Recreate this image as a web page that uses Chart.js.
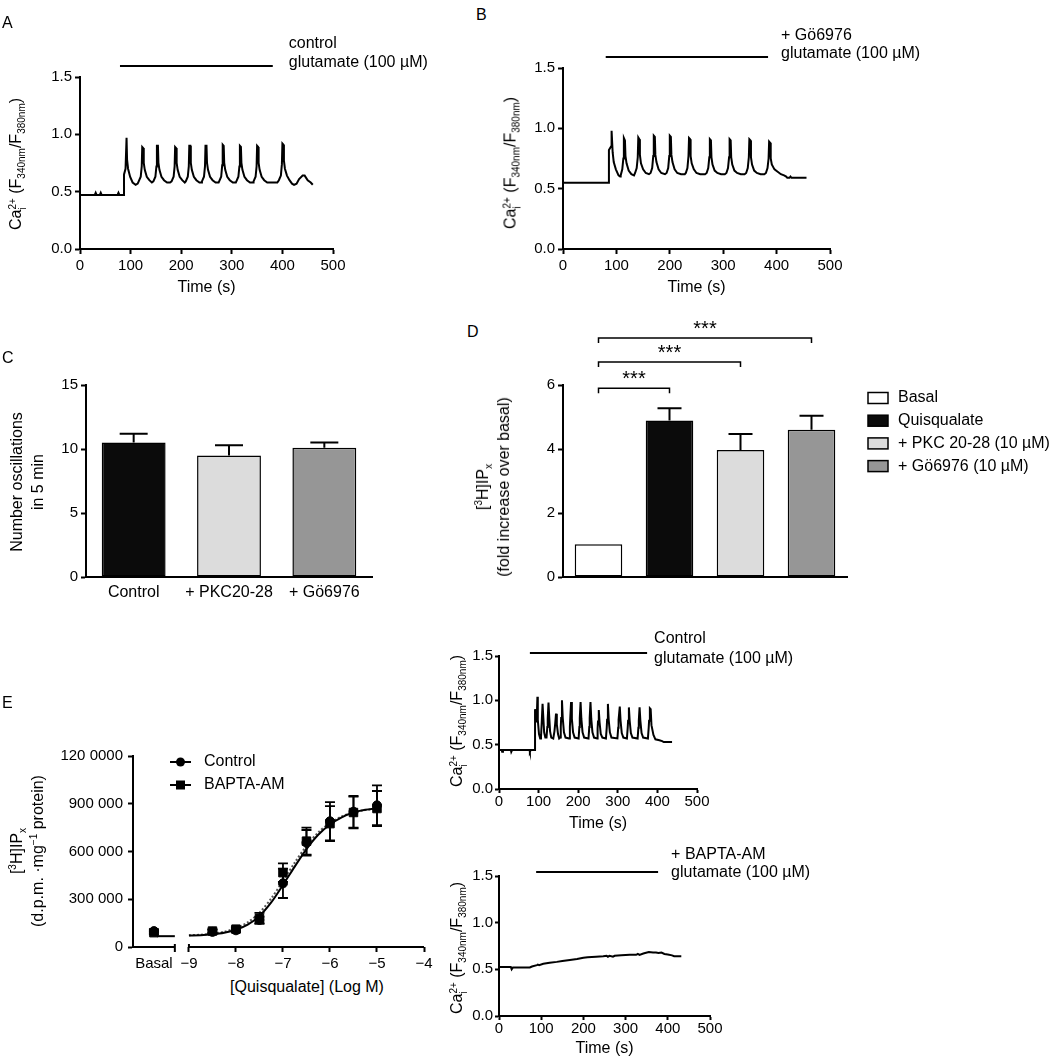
<!DOCTYPE html>
<html>
<head>
<meta charset="utf-8">
<title>PKC and Ca2+ oscillations</title>
<script src="https://cdn.jsdelivr.net/npm/chart.js@4.4.1/dist/chart.umd.min.js"></script>
<style>
  body { margin: 0; background: #fff; }
  #fig { position: relative; width: 1063px; height: 1059px; overflow: hidden; background: #fff;
         font-family: "Liberation Sans", Arial, Helvetica, sans-serif; color: #000; }
  #fig canvas { position: absolute; }
  .txt { position: absolute; font-size: 16px; line-height: 1; white-space: nowrap; transform: translate(-50%, -50%); }
  .letter { position: absolute; font-size: 16px; line-height: 1; }
  .yt { position: absolute; font-size: 16px; line-height: 21px; white-space: nowrap; text-align: center;
        transform: translate(-50%, -50%) rotate(-90deg); }
  .yt sub { font-size: 10px; vertical-align: -4px; line-height: 0; }
  .yt sup { font-size: 10px; vertical-align: 6px; line-height: 0; }
  .ss { display: inline-block; font-size: 10px; line-height: 10px; vertical-align: -5px; text-align: left; }
  .ss span { display: block; }
</style>
</head>
<body>
<div id="fig"></div>
<script>
// ---- data ----

// Ca2+ traces: [time (s), ratio F340/F380]
const traceA = [[0,.47],[29,.47],[31,.49],[33,.47],[39,.47],[41,.49],[43,.47],[74,.47],[76,.49],[78,.47],[87,.47],[87,.65],[90,.70],[92,.97],[93,.78],[95,.70],[99,.63],[104,.58],[110,.56],[114,.57],
  [116,.59],[120,.63],[122,.72],[123,.89],[125,.88],[126,.75],[128,.69],[132,.63],[137,.60],[142,.58],
  [145,.59],[149,.63],[151,.72],[152,.90],[154,.90],[155,.75],[157,.69],[161,.63],[166,.60],[172,.58],[178,.58],
  [181,.59],[185,.63],[187,.72],[188,.89],[190,.88],[191,.75],[193,.69],[197,.63],[202,.60],[207,.58],
  [209,.59],[213,.63],[215,.72],[216,.90],[218,.90],[219,.75],[221,.69],[225,.63],[230,.60],[236,.58],[240,.58],
  [241,.59],[245,.63],[247,.72],[248,.90],[250,.90],[251,.75],[253,.69],[257,.63],[262,.60],[268,.58],[274,.58],
  [275,.59],[279,.63],[281,.73],[282,.91],[284,.90],[285,.75],[287,.69],[291,.63],[296,.60],[302,.58],[308,.58],
  [309,.59],[313,.63],[315,.72],[316,.90],[318,.89],[319,.75],[321,.69],[325,.63],[330,.60],[336,.58],[342,.58],
  [343,.59],[347,.63],[349,.72],[350,.90],[352,.89],[353,.75],[355,.69],[359,.63],[364,.60],[370,.58],[390,.58],
  [393,.60],[397,.64],[399,.74],[400,.92],[402,.91],[403,.77],[405,.70],[409,.64],[414,.60],[419,.57],[423,.56],[428,.57],
  [433,.61],[440,.64],[444,.64],[450,.60],[456,.58],[460,.56]];

const traceB = [[0,.55],[86,.55],[86,.82],[90,.85],[91,.98],[93,.80],[95,.72],[99,.66],[104,.61],[107,.60],
  [108,.61],[111,.66],[113,.75],[114,.92],[116,.90],[117,.77],[119,.71],[123,.65],[128,.62],[133,.61],
  [135,.63],[138,.67],[140,.76],[141,.925],[143,.91],[144,.78],[146,.71],[150,.66],[155,.63],[161,.62],
  [164,.63],[167,.67],[169,.77],[170,.94],[172,.93],[173,.78],[175,.72],[179,.66],[184,.63],[191,.62],
  [194,.63],[197,.67],[199,.77],[200,.94],[202,.93],[203,.78],[205,.72],[209,.66],[214,.63],[221,.62],[228,.62],
  [230,.63],[233,.67],[235,.77],[236,.92],[238,.91],[239,.77],[241,.71],[245,.66],[250,.63],[257,.62],[266,.62],
  [269,.63],[272,.67],[274,.76],[275,.91],[277,.90],[278,.76],[280,.70],[284,.65],[289,.63],[296,.62],[303,.62],
  [306,.63],[309,.67],[311,.76],[312,.91],[314,.90],[315,.76],[317,.70],[321,.65],[326,.63],[333,.62],[340,.62],
  [343,.63],[346,.67],[348,.76],[349,.91],[351,.90],[352,.76],[354,.70],[358,.65],[363,.63],[370,.62],[377,.62],
  [380,.63],[383,.67],[385,.75],[386,.89],[388,.88],[389,.75],[391,.70],[396,.66],[402,.64],[408,.62],[414,.61],
  [418,.60],[420,.59],[424,.59],[426,.60],[428,.59],[440,.59],[456,.59]];

const traceCtrl = [[0,.44],[7,.44],[8,.42],[10,.44],[30,.44],[31,.42],[33,.44],[77,.44],[78,.42],[80,.44],[91,.44],[91,.90],[95,.75],[97,1.04],[98,.78],[101,.62],[104,.57],[106,.58],
  [108,.76],[110,.96],[112,.80],[114,.64],[117,.58],[120,.58],
  [122,.70],[123,.79],[125,.975],[127,.80],[129,.65],[132,.58],[137,.57],
  [140,.65],[142,.74],[144,.85],[146,.73],[149,.62],[152,.57],[155,.58],
  [156,.70],[157,.80],[159,1.0],[161,.80],[164,.64],[168,.58],[177,.57],
  [179,.70],[180,.80],[182,.98],[184,.79],[187,.64],[191,.58],[201,.57],
  [203,.70],[204,.80],[206,.98],[208,.79],[211,.64],[215,.58],[226,.57],
  [228,.70],[229,.80],[231,.98],[233,.79],[236,.64],[240,.58],[248,.57],
  [249,.68],[250,.76],[252,.89],[254,.75],[257,.62],[261,.58],[270,.57],
  [272,.69],[273,.78],[275,.96],[277,.78],[280,.64],[284,.58],[299,.57],
  [301,.69],[302,.78],[305,.93],[307,.77],[310,.63],[314,.58],[323,.57],
  [325,.69],[326,.77],[328,.92],[330,.77],[333,.63],[337,.58],[350,.57],
  [352,.69],[353,.77],[355,.92],[357,.77],[360,.63],[364,.58],[376,.57],
  [378,.69],[379,.77],[381,.91],[383,.90],[385,.72],[390,.61],[395,.56],[405,.55],[412,.54],[416,.53],[437,.53]];

const traceBapta = [[0,.525],[28,.525],[30,.50],[33,.52],[73,.52],[78,.53],[90,.545],[92,.55],[95,.545],[105,.56],[120,.57],[137,.58],
  [150,.59],[168,.60],[185,.61],[200,.625],[210,.63],[230,.635],[247,.64],[255,.645],[258,.635],[262,.645],[270,.635],
  [274,.645],[290,.65],[310,.655],[325,.655],[329,.665],[333,.655],[342,.67],[355,.685],[365,.68],[372,.68],[378,.675],
  [385,.68],[392,.665],[400,.66],[410,.65],[415,.64],[425,.64],[432,.64]];

// glutamate application (s)
const stimA = [79, 381];
const stimB = [80, 384];
const stimCtrl = [78, 374];
const stimBapta = [88, 377];
const timeTicks = [0, 100, 200, 300, 400, 500];
const ratioTicks = [0, 0.5, 1.0, 1.5];

// C: oscillation frequency
const oscCats = ['Control', '+ PKC20-28', '+ Gö6976'];
const oscMean = [10.5, 9.5, 10.1];
const oscSem = [0.7, 0.8, 0.4];
const oscColors = ['#0b0b0b', '#dcdcdc', '#969696'];

// D: [3H]IPx accumulation, fold over basal
const ipCats = ['Basal', 'Quisqualate', '+ PKC 20-28 (10 µM)', '+ Gö6976 (10 µM)'];
const ipMean = [1.02, 4.89, 3.97, 4.6];
const ipSem = [0, 0.38, 0.5, 0.44];
const ipColors = ['#ffffff', '#0b0b0b', '#dcdcdc', '#969696'];
const ipSig = ['***', '***', '***'];   // basal vs bars 1, 2, 3

// E: concentration-response
const doseLogM = [-8.5, -8, -7.5, -7, -6.5, -6, -5.5, -5];
const ctrlIP = [95000, 105000, 170000, 400000, 655000, 790000, 850000, 890000];
const ctrlSem = [12000, 12000, 20000, 92000, 80000, 120000, 100000, 125000];
const bapIP = [100000, 112000, 180000, 467000, 665000, 775000, 845000, 870000];
const bapSem = [12000, 12000, 35000, 58000, 85000, 110000, 100000, 110000];
const ctrlBasalIP = 100000;
const bapBasalIP = 90000;
const fitLogM = [-9, -8.75, -8.5, -8.25, -8, -7.75, -7.5, -7.25, -7, -6.75, -6.5, -6.25, -6, -5.75, -5.5, -5.25, -5];
const ctrlFit = [72000, 74000, 80000, 90000, 108000, 140000, 195000, 280000, 390000, 505000, 615000, 705000, 770000, 815000, 845000, 862000, 872000];
const bapFit = [74000, 77000, 84000, 96000, 118000, 155000, 215000, 305000, 415000, 530000, 635000, 720000, 780000, 820000, 846000, 860000, 868000];
const basalFitLevel = 68000;
const doseTicks = [-9, -8, -7, -6, -5, -4];
const ipYTicks = [0, 300000, 600000, 900000, 1200000];
const ipYTickText = ['0', '300 000', '600 000', '900 000', '120 0000'];

// ---- drawing ----
const FONT = '"Liberation Sans", Arial, Helvetica, sans-serif';
Chart.defaults.font.family = FONT;
Chart.defaults.color = '#000';

const fig = document.getElementById('fig');

// box = plot area in page pixels + room for axes/annotations
function mount(box) {
  const c = document.createElement('canvas');
  const w = box.r - box.l + box.yw + box.padR;
  const h = box.b - box.t + box.padT + box.xh;
  c.width = w;
  c.height = h;
  c.style.left = (box.l - box.yw) + 'px';
  c.style.top = (box.t - box.padT) + 'px';
  c.style.width = w + 'px';
  c.style.height = h + 'px';
  fig.appendChild(c);
  return c;
}

function axis(o) {
  const s = {
    type: o.type || 'linear',
    border: { display: o.border !== false, color: '#000', width: 2 },
    grid: { drawOnChartArea: false, drawTicks: o.tickLen !== 0, color: '#000',
            tickColor: o.tickColor || '#000', tickLength: o.tickLen === undefined ? 5 : o.tickLen, tickWidth: 2 },
    ticks: { display: o.labels !== false, color: '#000', font: { size: o.size || 15 },
             padding: o.pad === undefined ? 3 : o.pad, maxRotation: 0, minRotation: 0, autoSkip: false },
    title: { display: false },
    afterFit: o.fix
  };
  if (o.min !== undefined) s.min = o.min;
  if (o.max !== undefined) s.max = o.max;
  if (o.fmt) s.ticks.callback = o.fmt;
  if (o.vals) s.afterBuildTicks = sc => { sc.ticks = o.vals.map(v => ({ value: v })); };
  if (o.title) s.title = { display: true, text: o.title, color: '#000', font: { size: 16 }, padding: 0 };
  return s;
}

function fixX(h) { return s => { s.height = h; s.paddingLeft = 0; s.paddingRight = 0; }; }
function fixY(w) { return s => { s.width = w; s.paddingTop = 0; s.paddingBottom = 0; }; }

function baseOptions(box) {
  return {
    responsive: false,
    animation: false,
    events: [],
    layout: { padding: { left: 0, top: box.padT, right: box.padR, bottom: 0 } },
    plugins: { legend: { display: false }, tooltip: { enabled: false } }
  };
}

// glutamate bar + its two-line note, drawn above the plot
function stimPlugin(stim, notes, rise) {
  return {
    id: 'stim',
    afterDraw(chart) {
      const { ctx, scales: { x }, chartArea } = chart;
      const y = chartArea.top - rise;
      const x0 = x.getPixelForValue(stim[0]);
      const x1 = x.getPixelForValue(stim[1]);
      ctx.save();
      ctx.strokeStyle = '#000';
      ctx.lineWidth = 2;
      ctx.beginPath();
      ctx.moveTo(x0, y);
      ctx.lineTo(x1, y);
      ctx.stroke();
      ctx.fillStyle = '#000';
      ctx.font = '16px ' + FONT;
      ctx.textAlign = 'left';
      ctx.textBaseline = 'middle';
      notes.forEach(n => ctx.fillText(n.text, x1 + n.dx, y + n.dy));
      ctx.restore();
    }
  };
}

function traceChart(box, points, stim, notes, rise, tl, pad) {
  const canvas = mount(box);
  const opts = baseOptions(box);
  opts.scales = {
    x: axis({ min: 0, max: 500, vals: timeTicks, tickLen: tl, pad: pad.x, title: 'Time (s)', fix: fixX(box.xh) }),
    y: axis({ min: 0, max: 1.5, vals: ratioTicks, tickLen: tl, pad: pad.y, fmt: v => v.toFixed(1), fix: fixY(box.yw) })
  };
  return new Chart(canvas, {
    type: 'line',
    data: { datasets: [{
      data: points.map(p => ({ x: p[0], y: p[1] })),
      borderColor: '#000', borderWidth: 2, pointRadius: 0, tension: 0, fill: false
    }] },
    options: opts,
    plugins: [stimPlugin(stim, notes, rise)]
  });
}

// A
traceChart({ l: 80, t: 77, r: 333, b: 249, yw: 75, padT: 75, padR: 115, xh: 48 }, traceA, stimA,
  [{ text: 'control', dx: 16, dy: -22 }, { text: 'glutamate (100 µM)', dx: 16, dy: -3 }], 11, 5, { x: 3, y: 3 });
// B
traceChart({ l: 563, t: 68, r: 830, b: 249, yw: 70, padT: 66, padR: 232, xh: 48 }, traceB, stimB,
  [{ text: '+ Gö6976', dx: 13, dy: -21 }, { text: 'glutamate (100 µM)', dx: 13, dy: -3 }], 11, 5, { x: 3, y: 3 });
// E, right-hand traces
traceChart({ l: 499, t: 656, r: 697, b: 789, yw: 50, padT: 35, padR: 165, xh: 44 }, traceCtrl, stimCtrl,
  [{ text: 'Control', dx: 7, dy: -14 }, { text: 'glutamate (100 µM)', dx: 7, dy: 6 }], 3, 4, { x: 0, y: 2 });
traceChart({ l: 499, t: 876, r: 710, b: 1016, yw: 50, padT: 30, padR: 155, xh: 42 }, traceBapta, stimBapta,
  [{ text: '+ BAPTA-AM', dx: 13, dy: -17 }, { text: 'glutamate (100 µM)', dx: 13, dy: 1 }], 4, 4, { x: 0, y: 2 });

// upward SEM bars on a bar chart
const barErrors = {
  id: 'barErrors',
  afterDatasetsDraw(chart, args, o) {
    const { ctx } = chart;
    const y = chart.scales.y;
    const ds = chart.data.datasets[0];
    ctx.save();
    ctx.strokeStyle = '#000';
    ctx.lineWidth = 2;
    chart.getDatasetMeta(0).data.forEach((bar, i) => {
      const e = o.errors[i];
      if (!e) return;
      const top = y.getPixelForValue(ds.data[i] + e);
      ctx.beginPath();
      ctx.moveTo(bar.x, bar.y);
      ctx.lineTo(bar.x, top);
      ctx.moveTo(bar.x - o.cap / 2, top);
      ctx.lineTo(bar.x + o.cap / 2, top);
      ctx.stroke();
    });
    ctx.restore();
  }
};

function barDataset(values, colors) {
  return {
    data: values, backgroundColor: colors, borderColor: '#000', borderWidth: 1.5,
    borderSkipped: false, barPercentage: 0.67, categoryPercentage: 1
  };
}

// C
(function () {
  const box = { l: 86, t: 385, r: 372, b: 577, yw: 70, padT: 20, padR: 20, xh: 30 };
  const opts = baseOptions(box);
  opts.scales = {
    x: axis({ type: 'category', tickLen: 0, pad: 6, size: 16, fix: fixX(box.xh) }),
    y: axis({ min: 0, max: 15, vals: [0, 5, 10, 15], fix: fixY(box.yw) })
  };
  opts.plugins.barErrors = { errors: oscSem, cap: 28 };
  new Chart(mount(box), {
    type: 'bar',
    data: { labels: oscCats, datasets: [barDataset(oscMean, oscColors)] },
    options: opts,
    plugins: [barErrors]
  });
})();

// D
(function () {
  const box = { l: 563, t: 385, r: 847, b: 577, yw: 70, padT: 75, padR: 214, xh: 20 };
  const opts = baseOptions(box);
  opts.scales = {
    x: axis({ type: 'category', tickLen: 0, labels: false, fix: fixX(box.xh) }),
    y: axis({ min: 0, max: 6, vals: [0, 2, 4, 6], fix: fixY(box.yw) })
  };
  opts.plugins.barErrors = { errors: ipSem, cap: 24 };
  const extras = {
    id: 'extras',
    afterDraw(chart) {
      const { ctx, chartArea: a } = chart;
      const y = chart.scales.y;
      const bars = chart.getDatasetMeta(0).data;
      const levels = [5.9, 6.72, 7.47];
      ctx.save();
      ctx.strokeStyle = '#000';
      ctx.fillStyle = '#000';
      ctx.lineWidth = 1.5;
      ipSig.forEach((s, i) => {
        const yy = y.getPixelForValue(levels[i]);
        const x0 = bars[0].x, x1 = bars[i + 1].x;
        ctx.beginPath();
        ctx.moveTo(x0, yy + 5);
        ctx.lineTo(x0, yy);
        ctx.lineTo(x1, yy);
        ctx.lineTo(x1, yy + 5);
        ctx.stroke();
        ctx.font = '20px ' + FONT;
        ctx.textAlign = 'center';
        ctx.textBaseline = 'alphabetic';
        ctx.fillText(s, (x0 + x1) / 2, yy - 3);
      });
      // legend
      ctx.font = '16px ' + FONT;
      ctx.textAlign = 'left';
      ctx.textBaseline = 'middle';
      ipCats.forEach((c, i) => {
        const cy = a.top + 13 + i * 22.7;
        ctx.fillStyle = ipColors[i];
        ctx.fillRect(a.right + 21, cy - 5.5, 20, 11);
        ctx.strokeRect(a.right + 21, cy - 5.5, 20, 11);
        ctx.fillStyle = '#000';
        ctx.fillText(c, a.right + 51, cy);
      });
      ctx.restore();
    }
  };
  new Chart(mount(box), {
    type: 'bar',
    data: { labels: ipCats, datasets: [barDataset(ipMean, ipColors)] },
    options: opts,
    plugins: [barErrors, extras]
  });
})();

// E concentration-response
(function () {
  const BASAL_X = -9.745;
  const box = { l: 133, t: 756, r: 424, b: 947, yw: 75, padT: 20, padR: 20, xh: 30 };
  const opts = baseOptions(box);
  opts.scales = {
    x: axis({ min: -10.19, max: -4, vals: [BASAL_X].concat(doseTicks), border: false, size: 15,
      tickColor: c => (c.tick && c.tick.value === BASAL_X) ? 'rgba(0,0,0,0)' : '#000',
      fmt: v => v === BASAL_X ? 'Basal' : '\u2212' + Math.abs(v), fix: fixX(box.xh) }),
    y: axis({ min: 0, max: 1200000, vals: ipYTicks, pad: 5,
      fmt: v => ipYTickText[ipYTicks.indexOf(v)], fix: fixY(box.yw) })
  };
  const ctrlPts = [{ x: BASAL_X, y: ctrlBasalIP }].concat(doseLogM.map((d, i) => ({ x: d, y: ctrlIP[i] })));
  const bapPts = [{ x: BASAL_X, y: bapBasalIP }].concat(doseLogM.map((d, i) => ({ x: d, y: bapIP[i] })));
  const ctrlErr = [10000].concat(ctrlSem);
  const bapErr = [10000].concat(bapSem);

  const extras = {
    id: 'extrasE',
    beforeDatasetsDraw(chart) {
      const { ctx, chartArea: a } = chart;
      const x = chart.scales.x;
      const y0 = a.bottom;
      const brk = x.getPixelForValue(-9.3);
      const start = x.getPixelForValue(-9);
      ctx.save();
      ctx.strokeStyle = '#000';
      ctx.lineWidth = 2;
      ctx.beginPath();
      ctx.moveTo(a.left - 1, y0); ctx.lineTo(brk, y0);
      ctx.moveTo(brk, y0 - 3); ctx.lineTo(brk, y0 + 5);
      ctx.moveTo(start, y0 - 3); ctx.lineTo(start, y0);
      ctx.moveTo(start, y0); ctx.lineTo(a.right, y0);
      ctx.stroke();
      ctx.restore();
    },
    afterDatasetsDraw(chart) {
      const { ctx, chartArea: a } = chart;
      const x = chart.scales.x, y = chart.scales.y;
      ctx.save();
      ctx.strokeStyle = '#000';
      ctx.lineWidth = 1.8;
      [[ctrlPts, ctrlErr], [bapPts, bapErr]].forEach(([pts, errs]) => {
        pts.forEach((p, i) => {
          const px = x.getPixelForValue(p.x);
          const hi = y.getPixelForValue(p.y + errs[i]);
          const lo = y.getPixelForValue(p.y - errs[i]);
          ctx.beginPath();
          ctx.moveTo(px, hi); ctx.lineTo(px, lo);
          ctx.moveTo(px - 5, hi); ctx.lineTo(px + 5, hi);
          ctx.moveTo(px - 5, lo); ctx.lineTo(px + 5, lo);
          ctx.stroke();
        });
      });
      // legend
      const rows = [['Control', 'circle'], ['BAPTA-AM', 'rect']];
      ctx.fillStyle = '#000';
      ctx.font = '16px ' + FONT;
      ctx.textAlign = 'left';
      ctx.textBaseline = 'middle';
      rows.forEach((r, i) => {
        const cy = a.top + 6 + i * 23;
        ctx.lineWidth = 2;
        ctx.beginPath();
        ctx.moveTo(a.left + 37, cy); ctx.lineTo(a.left + 58, cy);
        ctx.stroke();
        if (r[1] === 'circle') {
          ctx.beginPath(); ctx.arc(a.left + 47.5, cy, 4.5, 0, Math.PI * 2); ctx.fill();
        } else {
          ctx.fillRect(a.left + 43, cy - 4.5, 9, 9);
        }
        ctx.fillText(r[0], a.left + 71, cy);
      });
      ctx.restore();
    }
  };

  new Chart(mount(box), {
    type: 'line',
    data: { datasets: [
      { data: ctrlPts, showLine: false, pointStyle: 'circle', pointRadius: 4.5, backgroundColor: '#000', borderColor: '#000', order: 0 },
      { data: bapPts, showLine: false, pointStyle: 'rect', pointRadius: 6, backgroundColor: '#000', borderColor: '#000', order: 0 },
      { data: fitLogM.map((d, i) => ({ x: d, y: ctrlFit[i] })), borderColor: '#000', borderWidth: 2, pointRadius: 0, tension: 0.3, order: 1 },
      { data: fitLogM.map((d, i) => ({ x: d, y: bapFit[i] })), borderColor: '#555', borderWidth: 2, borderDash: [2, 2], pointRadius: 0, tension: 0.3, order: 2 },
      { data: [{ x: -9.68, y: basalFitLevel }, { x: -9.3, y: basalFitLevel }], borderColor: '#000', borderWidth: 2, pointRadius: 0, order: 1 }
    ] },
    options: opts,
    plugins: [extras]
  });
})();

// ---- text overlays: panel letters and axis titles with sub/superscripts ----
const ca = 'Ca<span class="ss"><span>2+</span><span>i</span></span> (F<sub>340nm</sub>/F<sub>380nm</sub>)';
const overlays = [
  ['letter', 2, 15, 'A'], ['letter', 476, 7, 'B'], ['letter', 2, 350, 'C'], ['letter', 467, 324, 'D'], ['letter', 2, 695, 'E'],
  ['yt', 16, 164, ca], ['yt', 511, 163, ca], ['yt', 457, 721, ca], ['yt', 457, 948, ca],
  ['yt', 27, 482, 'Number oscillations<br>in 5 min'],
  ['yt', 493, 487, '[<sup>3</sup>H]IP<sub>x</sub><br>(fold increase over basal)'],
  ['yt', 27, 851, '[<sup>3</sup>H]IP<sub>x</sub><br>(d.p.m. ·mg<sup>−1</sup> protein)'],
  ['txt', 307, 987, '[Quisqualate] (Log M)']
];
overlays.forEach(([cls, x, y, html]) => {
  const d = document.createElement('div');
  d.className = cls;
  d.style.left = x + 'px';
  d.style.top = y + 'px';
  d.innerHTML = html;
  fig.appendChild(d);
});
</script>
</body>
</html>
